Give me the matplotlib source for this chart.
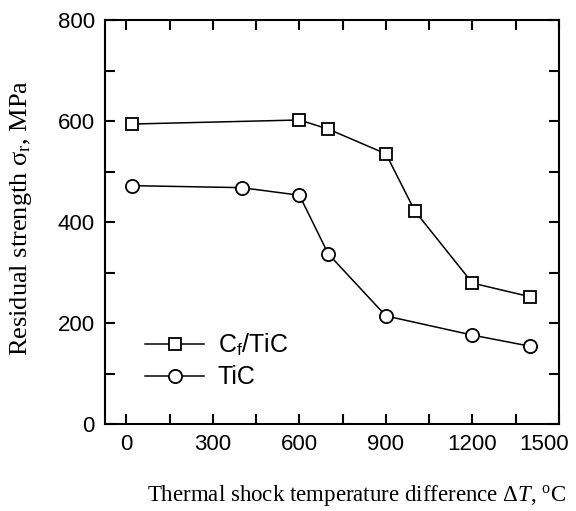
import matplotlib
matplotlib.use("Agg")
import matplotlib.pyplot as plt
from matplotlib.ticker import MultipleLocator
from matplotlib.transforms import ScaledTranslation

# data
cf_x = [20, 600, 700, 900, 1000, 1200, 1400]
cf_y = [594, 602, 584, 535, 422, 279, 252]
tic_x = [20, 400, 600, 700, 900, 1200, 1400]
tic_y = [472, 468, 453, 337, 214, 176, 154]

x_ticks = [0, 300, 600, 900, 1200, 1500]
y_ticks = [0, 200, 400, 600, 800]

plt.rcParams["font.family"] = ["Liberation Sans", "DejaVu Sans"]
plt.rcParams["mathtext.fontset"] = "custom"
plt.rcParams["mathtext.rm"] = "Liberation Serif"
plt.rcParams["mathtext.it"] = "Liberation Serif:italic"

fig = plt.figure(figsize=(5.76, 5.11), dpi=100)
ax = fig.add_axes([104.7 / 576, 1 - 424 / 511, 454.3 / 576, 404 / 511])

ax.plot(cf_x, cf_y, "-s", color="black", lw=1.1, ms=9, mfc="white", mec="black",
        mew=1.3, label="C$_\\mathregular{f}$/TiC")
ax.plot(tic_x, tic_y, "-o", color="black", lw=1.1, ms=9.5, mfc="white", mec="black",
        mew=1.3, label="TiC")

ax.set_xlim(-75, 1500)
ax.set_ylim(0, 800)
ax.set_xticks(x_ticks)
ax.set_yticks(y_ticks)
ax.xaxis.set_minor_locator(MultipleLocator(150))
ax.yaxis.set_minor_locator(MultipleLocator(100))
ax.tick_params(which="both", direction="in", top=True, right=True, width=1.5, labelsize=16)
ax.tick_params(which="major", length=7, pad=7)
ax.tick_params(which="minor", length=7)
for s in ax.spines.values():
    s.set_linewidth(1.5)

# the last x label sits shifted left in the original so it stays inside the figure
last = ax.get_xticklabels()[-1]
last.set_transform(last.get_transform() + ScaledTranslation(-0.15, 0, fig.dpi_scale_trans))

ax.set_xlabel("Thermal shock temperature difference $\\Delta \\mathit{T}$, $^\\mathregular{o}$C",
              family="Liberation Serif", fontsize=16.5, labelpad=20)
ax.xaxis.label.set_x(0.555)
ax.set_ylabel("Residual strength σ$_\\mathregular{r}$, MPa",
              family="Liberation Serif", fontsize=19, labelpad=17)
ax.yaxis.label.set_y(0.51)

leg = ax.legend(loc="lower left", bbox_to_anchor=(0.04, 0.03), frameon=False,
                handlelength=2.35, fontsize=18, labelspacing=0.3, handletextpad=0.55)

fig.savefig("out.png", dpi=100)
